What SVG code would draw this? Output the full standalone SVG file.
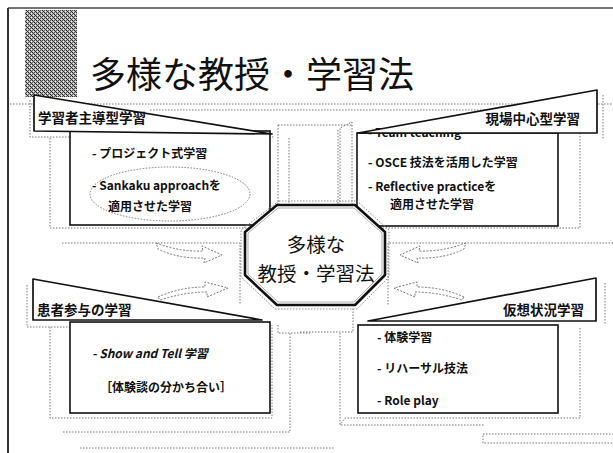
<svg xmlns="http://www.w3.org/2000/svg" width="613" height="453" viewBox="0 0 613 453">
<defs>
<pattern id="dither" width="4" height="4" patternUnits="userSpaceOnUse">
<rect width="4" height="4" fill="#b0b0b0"/>
<rect x="0" y="0" width="1" height="1" fill="#222"/>
<rect x="2" y="0" width="1" height="1" fill="#555"/>
<rect x="1" y="1" width="1" height="1" fill="#444"/>
<rect x="3" y="1" width="1" height="1" fill="#eee"/>
<rect x="0" y="2" width="1" height="1" fill="#666"/>
<rect x="2" y="2" width="1" height="1" fill="#222"/>
<rect x="1" y="3" width="1" height="1" fill="#eee"/>
<rect x="3" y="3" width="1" height="1" fill="#333"/>
</pattern>
</defs>
<style>
.t{font-family:"Noto Sans CJK JP","Noto Sans",sans-serif;fill:#111}
.title{font-size:36px}
.lab{font-size:13.5px;font-weight:700}
.item{font-size:12px;font-weight:700}
.ctr{font-size:19.5px;text-anchor:middle}
.box{fill:#fff;stroke:#111;stroke-width:1.6}
.ban{fill:#fff;stroke:#111;stroke-width:1.7;stroke-linejoin:round}
.dot{fill:none;stroke:#777;stroke-width:1;stroke-dasharray:1.5 1.5}
.arr{fill:none;stroke:#777;stroke-width:1;stroke-dasharray:2 1.5}
</style>
<rect width="613" height="453" fill="#fff"/>
<g id="frame">
<rect x="25" y="10" width="52" height="87" fill="url(#dither)"/>
<line x1="8" y1="8" x2="613" y2="8" stroke="#444" stroke-width="1.5"/>
<line x1="8" y1="8" x2="8" y2="453" stroke="#333" stroke-width="2"/>
<line class="dot" x1="10" y1="104" x2="613" y2="104"/>
<line class="dot" x1="150" y1="110" x2="500" y2="110"/>
<line class="dot" x1="80" y1="448" x2="335" y2="448"/>
<rect class="dot" x="483" y="434" width="135" height="9"/>
</g>
<text class="t title" x="90" y="88">多様な教授・学習法</text>
<g id="guides">
<polyline class="dot" points="30,100 30,137 275,137"/>
<polyline class="dot" points="50,138 50,228 250,228"/>
<line class="dot" x1="278" y1="125" x2="278" y2="205"/>
<line class="dot" x1="289" y1="138" x2="289" y2="205"/>
<line class="dot" x1="338" y1="130" x2="338" y2="205"/>
<line class="dot" x1="352" y1="122" x2="352" y2="205"/>
<line class="dot" x1="278" y1="125" x2="352" y2="125"/>
<polyline class="dot" points="340,205 340,128 352,122"/>
<polyline class="dot" points="603,95 603,140"/>
<polyline class="dot" points="580,133 580,228 378,228"/>
<polyline class="dot" points="62,243 240,243 240,305"/>
<polyline class="dot" points="613,243 388,243 388,305"/>
<polyline class="dot" points="27,285 27,327 262,327"/>
<polyline class="dot" points="50,327 50,418 272,418 272,325"/>
<polyline class="dot" points="278,325 278,333 310,333"/>
<polyline class="dot" points="63,432 290,432 290,333"/>
<polyline class="dot" points="605,283 605,325"/>
<polyline class="dot" points="580,328 580,418 345,418 340,425"/>
<polyline class="dot" points="300,332 353,332 353,307"/>
<polyline class="dot" points="340,333 340,425 485,425"/>
</g>
<g id="box-tl">
<rect class="box" x="70" y="131" width="200" height="94"/>
<text class="t item" x="92" y="158">- プロジェクト式学習</text>
<ellipse cx="170" cy="194" rx="80" ry="27" class="dot"/>
<text class="t item" x="92" y="190">- Sankaku approachを</text>
<text class="t item" x="108" y="211">適用させた学習</text>
</g>
<g id="box-tr">
<rect class="box" x="357" y="133" width="201" height="93"/>
<text class="t item" x="368" y="137">- Team teaching</text>
<text class="t item" x="368" y="167">- OSCE 技法を活用した学習</text>
<text class="t item" x="368" y="191">- Reflective practiceを</text>
<text class="t item" x="390" y="209">適用させた学習</text>
</g>
<g id="box-bl">
<rect class="box" x="70" y="322" width="200" height="91"/>
<text class="t item" x="92" y="358" font-style="italic">- Show and Tell 学習</text>
<text class="t item" x="100" y="392">［体験談の分かち合い］</text>
</g>
<g id="box-br">
<rect class="box" x="358" y="325" width="200" height="88"/>
<text class="t item" x="377" y="342">- 体験学習</text>
<text class="t item" x="377" y="373">- リハーサル技法</text>
<text class="t item" x="377" y="405">- Role play</text>
</g>
<g id="banner-tl">
<polygon class="ban" points="34,95 272,134 34,131"/>
<text class="t lab" x="38" y="123">学習者主導型学習</text>
</g>
<g id="banner-tr">
<polygon class="ban" points="597,90 358,133 597,133"/>
<text class="t lab" x="580" y="124" text-anchor="end">現場中心型学習</text>
</g>
<g id="banner-bl">
<polygon class="ban" points="33,279 262,320 33,320"/>
<text class="t lab" x="37" y="315">患者参与の学習</text>
</g>
<g id="banner-br">
<polygon class="ban" points="596,278 368,321 596,321"/>
<text class="t lab" x="584" y="315" text-anchor="end">仮想状況学習</text>
</g>
<g id="connectors">
<path class="arr" d="M156,243 Q180,252 203,251 L202,246 L222,255 L204,263 L205,258 Q178,259 158,249 Z"/>
<path class="arr" d="M158,297 Q180,287 205,287 L205,282 L228,288 L207,297 L207,292 Q185,292 160,300 Z"/>
<path class="arr" d="M466,243 Q442,252 419,251 L420,246 L400,255 L418,263 L417,258 Q444,259 464,249 Z"/>
<path class="arr" d="M464,297 Q442,287 417,287 L417,282 L394,288 L415,297 L415,292 Q437,292 462,300 Z"/>
</g>
<g id="center">
<polygon points="279,201 357,201 389,230 389,277 357,309 275,309 241,277 241,230" fill="none" stroke="#888" stroke-width="1" stroke-dasharray="1.5 1.5"/>
<polygon points="277,205 355,205 385,232 385,275 355,305 277,305 245,275 245,232" fill="#fff" stroke="#111" stroke-width="2.6" stroke-linejoin="round"/>
<polygon points="278,208 354,208 382,233 382,274 354,302 278,302 248,274 248,233" fill="none" stroke="#999" stroke-width="0.8"/>
<text class="t ctr" x="316" y="252">多様な</text>
<text class="t ctr" x="316" y="281">教授・学習法</text>
</g>
</svg>
